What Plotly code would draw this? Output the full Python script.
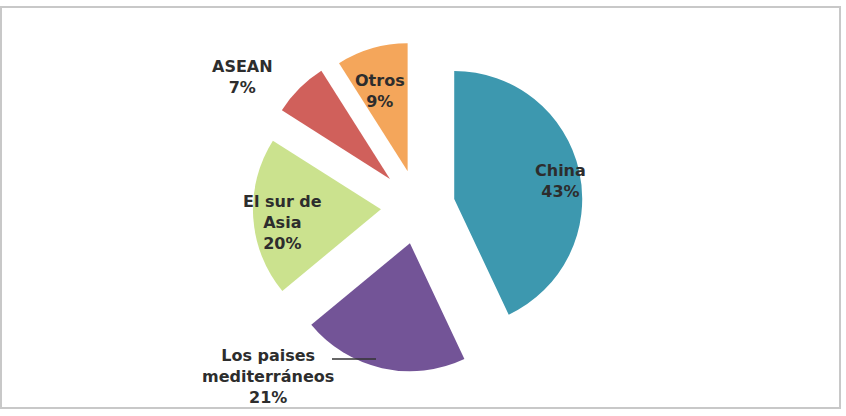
import plotly.graph_objects as go

W, H = 846, 416

labels = ["China", "Los paises<br>mediterráneos", "El sur de<br>Asia", "ASEAN", "Otros"]
values = [43, 21, 20, 7, 9]
colors = ["#3D98AF", "#735497", "#CBE28E", "#D0605B", "#F4A65B"]
pulls = [0.29, 0.29, 0.29, 0.31, 0.29]

# label block centres in pixels (x, y from top)
label_pos = [(560, 181), (268, 376), (282, 222), (242, 77), (380, 91)]

R = 128
cx, cy = 418, 207
half = R * (1 + max(pulls))

fig = go.Figure()
fig.add_trace(go.Pie(
    labels=labels,
    values=values,
    sort=False,
    direction="clockwise",
    rotation=0,
    pull=pulls,
    marker=dict(colors=colors, line=dict(width=0)),
    textinfo="none",
    hoverinfo="label+percent",
    showlegend=False,
    domain=dict(x=[(cx - half) / W, (cx + half) / W],
                y=[(H - cy - half) / H, (H - cy + half) / H]),
))

total = sum(values)
for lab, val, (px, py) in zip(labels, values, label_pos):
    pct = round(100 * val / total)
    fig.add_annotation(
        x=px / W, y=1 - py / H, xref="paper", yref="paper",
        text=f"<b>{lab}<br>{pct}%</b>", showarrow=False,
        font=dict(family="DejaVu Sans, sans-serif", size=16, color="#2d2d2d"),
        align="center", xanchor="center", yanchor="middle",
    )

# leader line for mediterráneos label
fig.add_shape(type="line", xref="paper", yref="paper",
              x0=332 / W, x1=376 / W, y0=1 - 359 / H, y1=1 - 359 / H,
              line=dict(color="#333333", width=1.5))

# outer border
fig.add_shape(type="rect", xref="paper", yref="paper",
              x0=1 / W, x1=840 / W, y0=1 - 408 / H, y1=1 - 7 / H,
              line=dict(color="#C8C8C8", width=2), fillcolor="rgba(0,0,0,0)")

fig.update_layout(
    width=W, height=H,
    margin=dict(l=0, r=0, t=0, b=0),
    paper_bgcolor="white", plot_bgcolor="white",
)

fig.write_html("out.html")
